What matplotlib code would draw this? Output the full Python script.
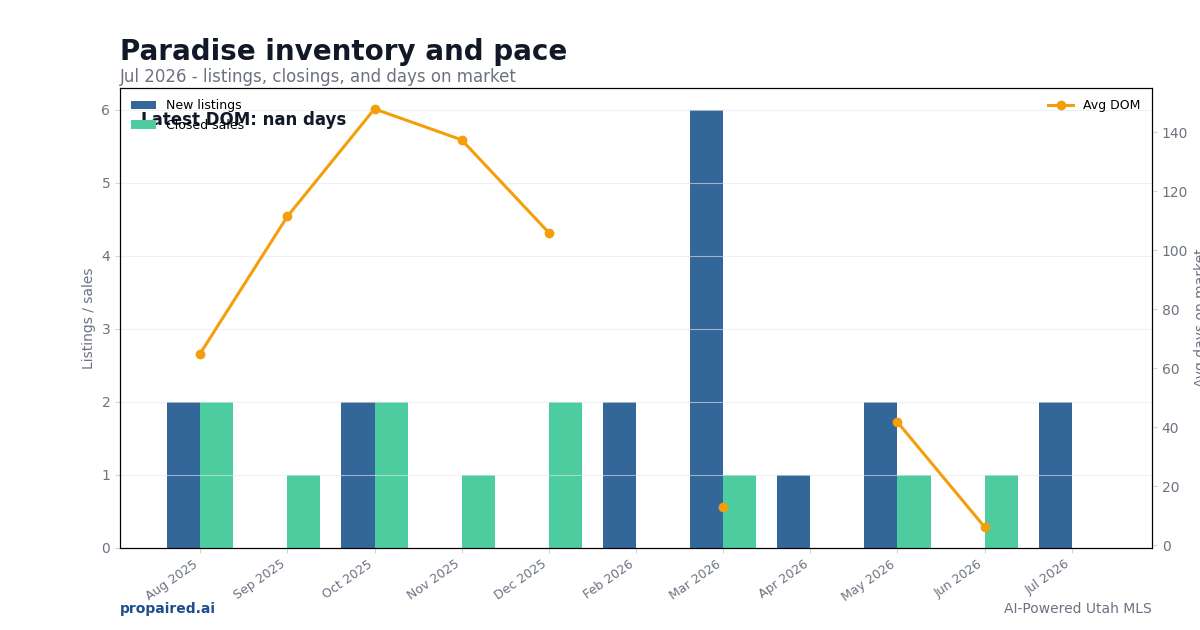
import matplotlib
matplotlib.use("Agg")
import matplotlib.pyplot as plt
import numpy as np

months = ["Aug 2025", "Sep 2025", "Oct 2025", "Nov 2025", "Dec 2025", "Feb 2026",
          "Mar 2026", "Apr 2026", "May 2026", "Jun 2026", "Jul 2026"]
new_listings = [2, 0, 2, 0, 0, 2, 6, 1, 2, 0, 2]
closed_sales = [2, 1, 2, 1, 2, 0, 1, 0, 1, 1, 0]
avg_dom = [65, 111.5, 148, 137.5, 106, np.nan, 13, np.nan, 41.7, 6.1, np.nan]

DARK = "#111827"
GRAY = "#6b7280"
BLUE = "#336699"
GREEN = "#4ccc9f"
ORANGE = "#f59e0b"

fig = plt.figure(figsize=(12, 6.3), dpi=100)
ax = fig.add_axes([0.1, 0.1302, 0.86, 0.7301])
ax2 = ax.twinx()

x = np.arange(len(months))
w = 0.38
ax.bar(x - w / 2, new_listings, w, color=BLUE, label="New listings")
ax.bar(x + w / 2, closed_sales, w, color=GREEN, label="Closed sales")
ax.set_ylim(0, 6.3)
ax.set_xlim(-0.92, 10.92)
ax.grid(axis="y", color="#e5e7eb", alpha=0.6, linewidth=0.8)
ax.set_xticks(x)
ax.set_xticklabels(months, rotation=35, ha="right")
ax.set_ylabel("Listings / sales", color=GRAY, fontsize=10)
ax.tick_params(colors="#d1d5db", labelcolor=GRAY, labelsize=10)
ax.tick_params(axis="x", labelsize=9)
ax.legend(loc="upper left", frameon=False, fontsize=9)

dom = np.array(avg_dom)
ax2.plot(x, dom, color=ORANGE, linewidth=2.2, marker="o", markersize=6, label="Avg DOM")
ax2.set_ylabel("Avg days on market", color=GRAY, fontsize=10)
ax2.tick_params(colors="#d1d5db", labelcolor=GRAY, labelsize=10)
ax2.legend(loc="upper right", frameon=False, fontsize=9)

latest = dom[-1]
ax.text(0.02, 0.93, f"Latest DOM: {latest:.0f} days" if not np.isnan(latest) else "Latest DOM: nan days",
        transform=ax.transAxes, fontsize=12, fontweight="bold", color=DARK, va="center")

fig.text(0.1, 0.917, "Paradise inventory and pace", fontsize=20, fontweight="bold", color=DARK, va="center")
fig.text(0.1, 0.877, "Jul 2026 - listings, closings, and days on market", fontsize=12, color=GRAY, va="center")
fig.text(0.1, 0.033, "propaired.ai", fontsize=10, fontweight="bold", color="#1e4e8c", va="center")
fig.text(0.96, 0.033, "AI-Powered Utah MLS", fontsize=10, color=GRAY, va="center", ha="right")

fig.savefig("out.png", dpi=100)
